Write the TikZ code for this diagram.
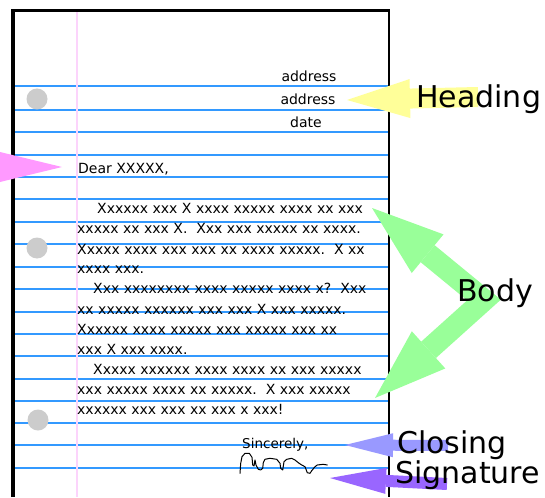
\documentclass[tikz,border=0pt]{standalone}
\usepackage{fontspec}
\setmainfont{DejaVu Sans}
\usetikzlibrary{arrows.meta}
\definecolor{ruleblue}{RGB}{51,153,255}
\definecolor{marginpink}{RGB}{252,212,252}
\definecolor{holegray}{RGB}{204,204,204}
\definecolor{headyellow}{RGB}{255,255,153}
\definecolor{bodygreen}{RGB}{153,255,153}
\definecolor{greetpink}{RGB}{255,153,255}
\definecolor{closeblue}{RGB}{153,153,255}
\definecolor{signpurple}{RGB}{153,102,255}
\tikzset{
  ruleline/.style={ruleblue, line width=1.6pt},
  marginline/.style={marginpink, line width=1.2pt},
  hole/.style={fill=holegray},
  lettertext/.style={font=\fontsize{14}{16}\selectfont, inner sep=0pt, anchor=base west},
  addrtext/.style={font=\fontsize{14}{16}\selectfont, inner sep=0pt, anchor=base},
  tag/.style={font=\fontsize{30}{34}\selectfont, inner sep=0pt, anchor=base west},
  fatarrow/.style={line width=#1, line cap=butt, line join=miter},
}
\frenchspacing
\begin{document}
\begin{tikzpicture}[x=1pt,y=-1pt]
\useasboundingbox (0,0) rectangle (545,497);
\fill[white] (0,0) rectangle (545,497);

% ruled lines of the sheet
\foreach \yy in {86,110,132,155,177,199,222,244,267,289,312,334,356,379,401,423,445,468}
  \draw[ruleline] (14,\yy) -- (388,\yy);
% margin
\draw[marginline] (77,12) -- (77,497);
% punched holes
\fill[hole] (37,99) circle[radius=10.5pt];
\fill[hole] (37,248) circle[radius=10.5pt];
\fill[hole] (38,420) circle[radius=10.5pt];
% sheet edges
\draw[line width=4pt] (13,497) -- (13,11);
\draw[line width=3pt] (11,11) -- (390.2,11);
\draw[line width=2.5pt] (389,11) -- (389,497);

% heading
\node[addrtext] (addr1) at (309,82) {address};
\node[addrtext] (addr2) at (308,105) {address};
\node[addrtext] (date) at (306,128) {date};
% greeting
\node[lettertext] (dear) at (78,173) {Dear XXXXX,};
% body
\node[lettertext] (b1) at (97,213) {Xxxxxx xxx X xxxx xxxxx xxxx xx xxx};
\node[lettertext] (b2) at (77,233) {xxxxx xx xxx X.\ \ Xxx xxx xxxxx xx xxxx.};
\node[lettertext] (b3) at (77,254) {Xxxxx xxxx xxx xxx xx xxxx xxxxx.\ \ X xx};
\node[lettertext] (b4) at (77,273) {xxxx xxx.};
\node[lettertext] (b5) at (93,293) {Xxx xxxxxxxx xxxx xxxxx xxxx x?\ \ Xxx};
\node[lettertext] (b6) at (77,314) {xx xxxxx xxxxxx xxx xxx X xxx xxxxx.};
\node[lettertext] (b7) at (77,334) {Xxxxxx xxxx xxxxx xxx xxxxx xxx xx};
\node[lettertext] (b8) at (77,354) {xxx X xxx xxxx.};
\node[lettertext] (b9) at (93,374) {Xxxxx xxxxxx xxxx xxxx xx xxx xxxxx};
\node[lettertext] (b10) at (77,394) {xxx xxxxx xxxx xx xxxxx.\ \ X xxx xxxxx};
\node[lettertext] (b11) at (77,414) {xxxxxx xxx xxx xx xxx x xxx!};
% closing
\node[lettertext, font=\fontsize{13.5}{15}\selectfont] (sinc) at (242,448) {Sincerely,};
% signature scribble
\draw[line width=1pt, line join=round, line cap=round]
  plot coordinates {(240,473.3) (240.7,463.3) (242,456.7) (245,453.3) (249.3,453.3)
    (252,457.3) (252.7,465) (254,466) (255,460) (256,465) (258.3,469.3) (260.7,470)
    (262.7,468.3) (263.3,462.7) (265,459.3) (270,458.3) (276.7,459.3) (280,463.3)
    (280.7,468.3) (282.7,470) (284,461.7) (286.7,459.3) (291.7,458.3) (295,460)
    (298.3,462.7) (301.7,465) (305,466.7) (307.3,472.7) (310,473.3) (311.7,470.7)
    (315,466.7) (317.3,465) (323.3,464.3) (327.3,465)};

% pointer arrows
\coordinate (hdTail) at (478,97);
\coordinate (hdTip) at (347,100);
\coordinate (bdTop) at (372,208);
\coordinate (bdJoin) at (484,300);
\coordinate (bdBot) at (375,398);
\coordinate (clTail) at (448,445.5);
\coordinate (clTip) at (345,445);
\coordinate (sgTail) at (447,484);
\coordinate (sgTip) at (330,478);
\coordinate (grTip) at (62,167);

\draw[headyellow, fatarrow=20pt, -{Triangle[length=63pt,width=39pt,line width=0pt]}] (hdTail) -- (hdTip);
\draw[bodygreen, fatarrow=22pt,
  {Triangle[length=72pt,width=50pt,line width=0pt]}-{Triangle[length=72pt,width=50pt,line width=0pt]}]
  (bdTop) -- (bdJoin) -- (bdBot);
\draw[closeblue, fatarrow=11pt, -{Triangle[length=48pt,width=24pt,line width=0pt]}] (clTail) -- (clTip);
\draw[signpurple, fatarrow=12pt, -{Triangle[length=56pt,width=26pt,line width=0pt]}] (sgTail) -- (sgTip);
\fill[greetpink] (0,152) -- (grTip) -- (0,182) -- cycle;

% labels
\node[tag] (heading) at (416,108) {Heading};
\node[tag] (body) at (457,301) {Body};
\node[tag] (closing) at (397,453) {Closing};
\node[tag] (signature) at (395,483) {Signature};
\end{tikzpicture}
\end{document}
